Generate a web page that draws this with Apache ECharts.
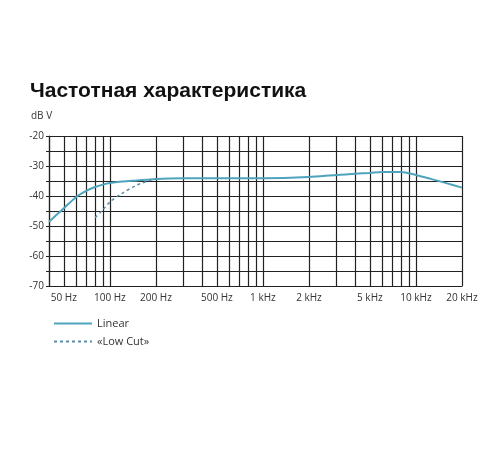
<!DOCTYPE html>
<html>
<head>
<meta charset="utf-8">
<script src="https://cdn.jsdelivr.net/npm/echarts@6/dist/echarts.min.js"></script>
<style>
  html, body { margin: 0; padding: 0; background: #fff; }
  #main { width: 500px; height: 450px; }
</style>
</head>
<body>
<div id="main"></div>
<script>
// frequency response
var freqLinear = [40, 45, 50, 60, 70, 80, 90, 100, 120, 150, 200, 300, 500, 1000, 2000, 3000, 4000, 5000, 6000, 8000, 10000, 12500, 16000, 20000];
var dbLinear = [-48.6, -46.2, -44.1, -40.4, -38.3, -37.0, -36.2, -35.7, -35.2, -34.8, -34.3, -34.1, -34.1, -34.1, -33.7, -33.0, -32.6, -32.3, -32.0, -32.0, -33.0, -34.3, -35.8, -37.2];
var freqLowCut = [80, 90, 100, 120, 150, 180, 200];
var dbLowCut = [-47.2, -44.6, -42.0, -39.1, -36.4, -34.9, -34.4];

var gridFreqs = [40, 50, 60, 70, 80, 90, 100, 200, 300, 400, 500, 600, 700, 800, 900, 1000,
  2000, 3000, 4000, 5000, 6000, 7000, 8000, 9000, 10000, 20000];
var labelFreqs = [50, 100, 200, 500, 1000, 2000, 5000, 10000, 20000];
var labelTexts = ['50 Hz', '100 Hz', '200 Hz', '500 Hz', '1 kHz', '2 kHz', '5 kHz', '10 kHz', '20 kHz'];

var chart = echarts.init(document.getElementById('main'));

function pairs(fs, ds) {
  return fs.map(function (f, i) { return [Math.log10(f), ds[i]]; });
}

var option = {
  animation: false,
  backgroundColor: '#fff',
  textStyle: { fontFamily: 'Open Sans' },
  title: {
    text: 'Частотная характеристика',
    left: 25,
    top: 76,
    textStyle: { fontSize: 21, fontWeight: 'bold', color: '#111', fontFamily: 'Liberation Sans' }
  },
  graphic: [{
    type: 'text', left: 31, top: 111,
    style: { text: 'dB V', fontSize: 10, fill: '#333', fontFamily: 'Open Sans' }
  }],
  legend: {
    orient: 'vertical',
    left: 48,
    top: 313,
    itemWidth: 38,
    itemHeight: 10,
    itemGap: 7,
    itemStyle: { opacity: 0 },
    textStyle: { fontSize: 11, color: '#333', fontFamily: 'Open Sans' },
    data: ['Linear', '«Low Cut»']
  },
  grid: { left: 49, right: 38, top: 136, bottom: 164 },
  xAxis: {
    type: 'value',
    min: Math.log10(40),
    max: Math.log10(20000),
    axisLine: { show: true, lineStyle: { color: '#222', width: 1.2 } },
    axisTick: {
      show: true,
      customValues: gridFreqs.map(function (f) { return Math.log10(f); }),
      length: 0
    },
    splitLine: { show: true, lineStyle: { color: '#222', width: 1.2 } },
    axisLabel: {
      customValues: labelFreqs.map(function (f) { return Math.log10(f); }),
      fontSize: 10,
      color: '#333',
      margin: 7,
      formatter: function (v) {
        var f = Math.round(Math.pow(10, v));
        var i = labelFreqs.indexOf(f);
        return i >= 0 ? labelTexts[i] : '';
      }
    }
  },
  yAxis: {
    type: 'value',
    min: -70,
    max: -20,
    interval: 5,
    axisLine: { show: true, lineStyle: { color: '#222', width: 1.2 } },
    axisTick: { show: true, length: 3, lineStyle: { color: '#222' } },
    splitLine: { show: true, lineStyle: { color: '#222', width: 1.2 } },
    axisLabel: {
      fontSize: 10,
      color: '#333',
      margin: 5,
      formatter: function (v) { return v % 10 === 0 ? String(v) : ''; }
    }
  },
  series: [
    {
      name: 'Linear',
      type: 'line',
      smooth: 0.3,
      symbol: 'none',
      data: pairs(freqLinear, dbLinear),
      lineStyle: { color: '#4ea3bd', width: 2 },
      itemStyle: { color: '#4ea3bd' }
    },
    {
      name: '«Low Cut»',
      type: 'line',
      smooth: 0.3,
      symbol: 'none',
      data: pairs(freqLowCut, dbLowCut),
      lineStyle: { color: '#5b8fa8', width: 1.5, type: [3, 3] },
      itemStyle: { color: '#5b8fa8' }
    }
  ]
};

chart.setOption(option);
</script>
</body>
</html>
